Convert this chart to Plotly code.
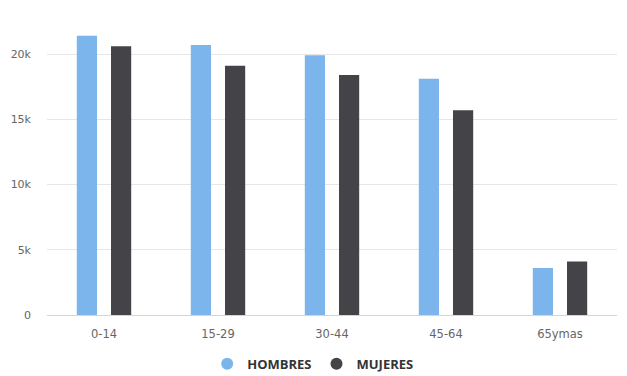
import plotly.graph_objects as go

categories = ["0-14", "15-29", "30-44", "45-64", "65ymas"]
hombres = [21400, 20700, 19900, 18100, 3600]
mujeres = [20600, 19100, 18400, 15700, 4100]
series_names = ["HOMBRES", "MUJERES"]
colors = ["#7cb5ec", "#434348"]
y_ticks = [0, 5000, 10000, 15000, 20000]
y_tick_labels = ["0", "5k", "10k", "15k", "20k"]

fig = go.Figure()
for name, vals, col in zip(series_names, [hombres, mujeres], colors):
    fig.add_trace(go.Bar(x=categories, y=vals, name=name, marker=dict(color=col, line=dict(width=0)),
                         showlegend=False))
for name, col in zip(series_names, colors):
    fig.add_trace(go.Scatter(x=[None], y=[None], mode="markers", name=name,
                             marker=dict(symbol="circle", size=12, color=col)))

fig.update_layout(
    width=627, height=376,
    margin=dict(l=47, r=10, t=0, b=61, autoexpand=False),
    paper_bgcolor="white", plot_bgcolor="white",
    barmode="group", bargap=0.40, bargroupgap=0.41,
    font=dict(family="DejaVu Sans", size=11, color="#666666"),
    showlegend=True,
    legend=dict(orientation="h", x=0.467, xanchor="center", y=-0.155, yanchor="middle",
                font=dict(family="Open Sans", size=13, color="#333333", weight="bold"),
                itemwidth=30),
    xaxis=dict(showline=True, linecolor="#ccd6eb", linewidth=1, showgrid=False,
               ticks="", tickfont=dict(size=11.5, color="#666666"), ticklabelstandoff=8),
    yaxis=dict(range=[0, 24140], tickvals=y_ticks, ticktext=y_tick_labels,
               showgrid=True, gridcolor="#e6e6e6", gridwidth=1, zeroline=False,
               ticks="", ticklabelstandoff=15, tickfont=dict(size=11, color="#666666")),
)
fig.write_html("out.html", config={"displayModeBar": False},
               post_script="document.body.style.margin='0';document.body.style.overflow='hidden';")
